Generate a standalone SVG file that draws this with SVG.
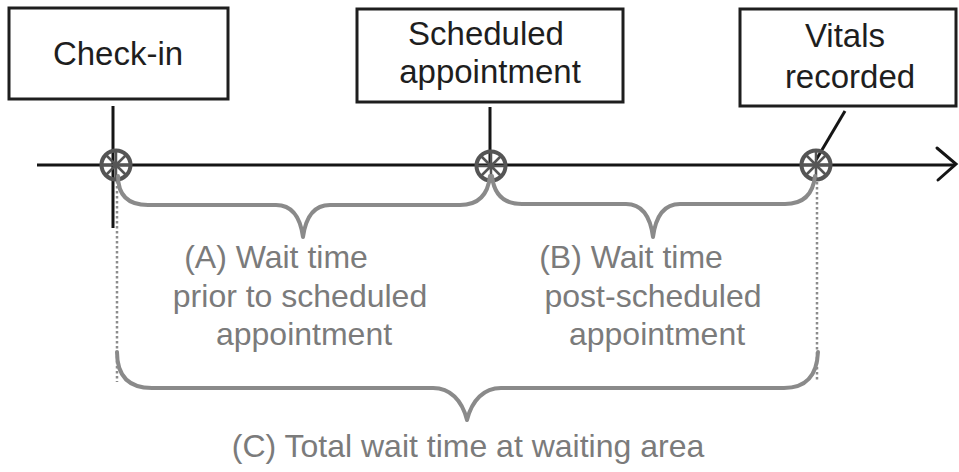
<svg xmlns="http://www.w3.org/2000/svg" width="959" height="472" viewBox="0 0 959 472">
<style>
  .box { fill: #ffffff; stroke: #1e1e1e; stroke-width: 3; }
  .boxtext { font-family: "Liberation Sans", Arial, sans-serif; font-size: 33px; fill: #1e1e1e; text-anchor: middle; }
  .label { font-family: "Liberation Sans", Arial, sans-serif; font-size: 32px; fill: #7b7b7b; text-anchor: middle; }
  .line { stroke: #151515; stroke-width: 3; fill: none; }
  .brace { stroke: #8a8a8a; stroke-width: 4; fill: none; stroke-linecap: round; stroke-linejoin: round; }
  .dots { stroke: #8c8c8c; stroke-width: 2.5; stroke-dasharray: 2.5 2.5; fill: none; }
  .mark { stroke: #555555; fill: none; }
</style>
<defs>
  <g id="marker">
    <circle class="mark" cx="0" cy="0" r="14.5" stroke-width="4"/>
    <path class="mark" stroke-width="2.5" d="M-10,-10 L10,10 M10,-10 L-10,10 M0,-14 L0,14 M-14,0 L14,0"/>
  </g>
</defs>

<g id="connectors">
  <line class="line" x1="37" y1="165" x2="955" y2="165" stroke-width="3.5"/>
  <path class="line" d="M937,148 L956,164 L938,180" stroke-width="4" stroke-linecap="round" stroke-linejoin="miter"/>
  <line class="line" x1="113" y1="106" x2="113" y2="228"/>
  <line class="line" x1="490" y1="107" x2="490" y2="165"/>
  <line class="line" x1="845" y1="111" x2="816" y2="160"/>
  <line class="dots" x1="117" y1="181" x2="117" y2="382"/>
  <line class="dots" x1="817" y1="182" x2="817" y2="382"/>
</g>

<g id="marker-checkin"><use href="#marker" x="116" y="165"/></g>
<g id="marker-scheduled"><use href="#marker" x="491" y="166"/></g>
<g id="marker-vitals"><use href="#marker" x="816" y="165"/></g>

<g id="node-checkin">
  <rect class="box" x="9" y="8" width="219" height="91"/>
  <text class="boxtext" x="118" y="65">Check-in</text>
</g>
<g id="node-scheduled">
  <rect class="box" x="357" y="9" width="266" height="93"/>
  <text class="boxtext" x="486" y="45">Scheduled</text>
  <text class="boxtext" x="490" y="83">appointment</text>
</g>
<g id="node-vitals">
  <rect class="box" x="740" y="9" width="216" height="97"/>
  <text class="boxtext" x="845" y="47">Vitals</text>
  <text class="boxtext" x="850" y="88">recorded</text>
</g>

<g id="brace-a">
  <path class="brace" d="M118,176 C118,195 128,205 148,205 L276,205 C291,205 300,215 303,237 C306,215 315,205 330,205 L460,205 C478,205 488,195 490,176"/>
  <text class="label" x="276" y="268">(A) Wait time</text>
  <text class="label" x="300" y="307">prior to scheduled</text>
  <text class="label" x="304" y="345">appointment</text>
</g>
<g id="brace-b">
  <path class="brace" d="M492,176 C494,195 504,204 522,204 L626,204 C641,204 650,214 653,237 C656,214 665,204 680,204 L785,204 C803,204 813,195 815,176"/>
  <text class="label" x="631" y="268">(B) Wait time</text>
  <text class="label" x="653" y="307">post-scheduled</text>
  <text class="label" x="657" y="345">appointment</text>
</g>
<g id="brace-c">
  <path class="brace" d="M117,352 C117,375 128,388 152,388 L433,388 C450,388 462,400 467,420 C472,400 484,388 501,388 L784,388 C806,388 817,375 818,352"/>
  <text class="label" x="468" y="457">(C) Total wait time at waiting area</text>
</g>
</svg>
